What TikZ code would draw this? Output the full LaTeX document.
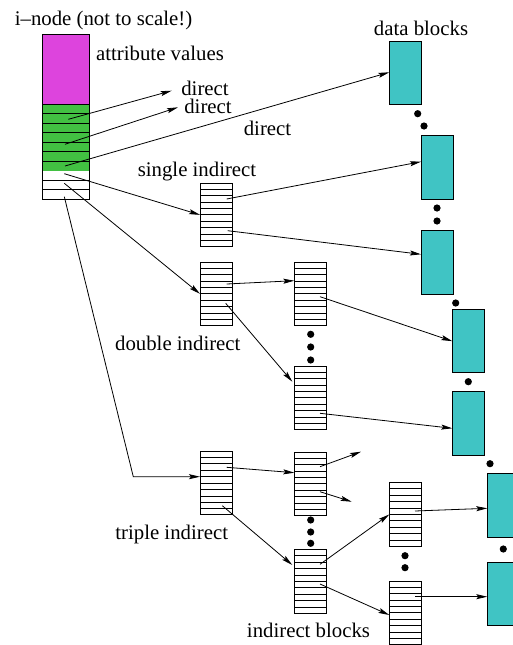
\documentclass[tikz,border=0pt]{standalone}
\usepackage{fontspec}
\setmainfont{Liberation Serif}
\usetikzlibrary{arrows.meta,calc}
\definecolor{attrc}{RGB}{221,68,221}
\definecolor{dirc}{RGB}{66,192,66}
\definecolor{datac}{RGB}{64,196,196}
\newcommand\iblock[3]{%
  \node[iblk] (#1) at (#2,#3) {};
  \foreach \k in {1,...,9}
    \draw[rowline] ($(#1.north west)!\k/10!(#1.south west)$) -- ($(#1.north east)!\k/10!(#1.south east)$);
}
\begin{document}
\begin{tikzpicture}[x=1pt,y=-1pt,
  lbl/.style={font=\fontsize{20.8}{24}\selectfont, inner sep=0pt, anchor=base},
  dblk/.style={draw, fill=datac, line width=1pt, minimum width=31.7pt, minimum height=63.3pt, inner sep=0pt, anchor=north west},
  iblk/.style={draw, fill=white, line width=1pt, minimum width=31.7pt, minimum height=63.3pt, inner sep=0pt, anchor=north west},
  rowline/.style={line width=0.8pt},
  ptr/.style={line width=0.8pt, -{Stealth[length=11pt,width=5pt,inset=2pt]}},
  dotc/.style={fill=black}]
\useasboundingbox (0,0) rectangle (512,645);

% ---------- i-node ----------
\fill[attrc] (42.3,34.3) rectangle (89.3,104);
\fill[dirc] (42.3,104) rectangle (89.3,170.7);
\foreach \k in {0,...,6}
  \draw[rowline] (42.3,104+\k*9.53) -- (89.3,104+\k*9.53);
\draw[rowline] (42.3,180.1) -- (89.3,180.1);
\draw[rowline] (42.3,189.5) -- (89.3,189.5);
\node[draw, line width=1pt, minimum width=47pt, minimum height=164.7pt, inner sep=0pt, anchor=north west] (inode) at (42.3,34.3) {};

% ---------- labels ----------
\node[lbl] (tinode) at (103.5,25.5) {i--node (not to scale!)};
\node[lbl] (tattr) at (160,60) {attribute values};
\node[lbl] (tdir1) at (205,95) {direct};
\node[lbl] (tdir2) at (208,113) {direct};
\node[lbl] (tdir3) at (267.5,135) {direct};
\node[lbl] (tdata) at (421,35) {data blocks};
\node[lbl] (tsingle) at (197,176.7) {single indirect};
\node[lbl] (tdouble) at (177.8,350) {double indirect};
\node[lbl] (ttriple) at (171.7,539.3) {triple indirect};
\node[lbl] (tind) at (308.5,637.3) {indirect blocks};

% ---------- data blocks ----------
\node[dblk] (D1) at (389.3,41) {};
\node[dblk] (D2) at (421,135.3) {};
\node[dblk] (D3) at (421,230.3) {};
\node[dblk] (D4) at (452.3,309) {};
\node[dblk] (D5) at (452.3,391.3) {};
\node[dblk] (D6) at (487.3,473.3) {};
\node[dblk] (D7) at (487.3,561.7) {};

% ---------- indirect blocks ----------
\iblock{S}{200}{182.7}
\iblock{DB}{200}{261.7}
\iblock{A}{294.3}{261.7}
\iblock{B}{294.3}{365.7}
\iblock{T}{200}{451}
\iblock{C}{294.3}{451.7}
\iblock{D}{294.3}{549.3}
\iblock{E}{389.3}{482.3}
\iblock{F}{389.3}{580.7}

% ---------- dots ----------
\foreach \p in {(417.7,113.7),(424,126),(437,208),(437,221),(455.7,303),(468.3,381.7),(490,463.7),(503.3,549),
  (310.7,334.3),(310.7,347),(310.7,360),(310.7,520),(310.7,532),(310.7,543.3),(405,555.7),(405,567.7)}
  \fill[dotc] \p circle (3.6);

% ---------- free ends ----------
\coordinate (f1) at (171.7,90.7);
\coordinate (f2) at (178,107.3);
\coordinate (f3) at (361,451.7);
\coordinate (f4) at (351.7,501.7);
\coordinate (tbend) at (133.3,476.7);

% ---------- pointers from i-node ----------
\draw[ptr] ([shift={(26,85)}]inode.north west) -- (f1);
\draw[ptr] ([shift={(22.7,110)}]inode.north west) -- (f2);
\draw[ptr] ([shift={(22.7,131.7)}]inode.north west) -- ([shift={(0,31.3)}]D1.north west);
\draw[ptr] ([shift={(22,139.4)}]inode.north west) -- (S.west);
\draw[ptr] ([shift={(22,149)}]inode.north west) -- (DB.west);
\draw[ptr] ([shift={(22,162.4)}]inode.north west) -- (tbend) -- ([shift={(0,25.7)}]T.north west);

% ---------- single indirect ----------
\draw[ptr] ([shift={(26.7,16.3)}]S.north west) -- ([shift={(0,26.4)}]D2.north west);
\draw[ptr] ([shift={(27.7,48)}]S.north west) -- ([shift={(0,24)}]D3.north west);

% ---------- double indirect ----------
\draw[ptr] ([shift={(26.7,22.3)}]DB.north west) -- ([shift={(0,19)}]A.north west);
\draw[ptr] ([shift={(25.7,41.6)}]DB.north west) -- ([shift={(-2,16)}]B.north west);
\draw[ptr] ([shift={(25.7,35)}]A.north west) -- (D4.west);
\draw[ptr] ([shift={(25.7,47.6)}]B.north west) -- ([shift={(0,37)}]D5.north west);

% ---------- triple indirect ----------
\draw[ptr] ([shift={(26.7,16.3)}]T.north west) -- ([shift={(0,21)}]C.north west);
\draw[ptr] ([shift={(22.3,54.7)}]T.north west) -- ([shift={(-2,15.7)}]D.north west);
\draw[ptr] ([shift={(25.7,15)}]C.north west) -- (f3);
\draw[ptr] ([shift={(25.7,40)}]C.north west) -- (f4);
\draw[ptr] ([shift={(25.7,15)}]D.north west) -- (E.west);
\draw[ptr] ([shift={(25.7,34.7)}]D.north west) -- ([shift={(0,34.3)}]F.north west);
\draw[ptr] ([shift={(25.7,28.7)}]E.north west) -- ([shift={(0,35)}]D6.north west);
\draw[ptr] ([shift={(25.7,16)}]F.north west) -- ([shift={(0,35)}]D7.north west);
\end{tikzpicture}
\end{document}
